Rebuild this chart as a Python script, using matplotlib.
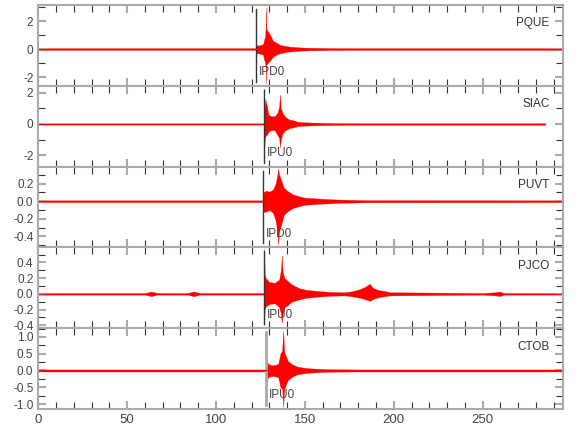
import matplotlib
matplotlib.use("Agg")
import matplotlib.pyplot as plt
from matplotlib.ticker import MultipleLocator, FormatStrFormatter

plt.rcParams["font.family"] = ["Liberation Sans Narrow", "DejaVu Sans Condensed", "Liberation Sans", "DejaVu Sans"]
plt.rcParams["axes.unicode_minus"] = False

# Station names, pick labels and pick times (s)
stations = ["PQUE", "SIAC", "PUVT", "PJCO", "CTOB"]
pick_labels = ["IPD0", "IPU0", "IPD0", "IPU0", "IPU0"]
pick_times = [122.3, 127.0, 126.4, 127.0, 128.0]

# Envelopes: time (s), upper and lower amplitude
pque_t = [0, 122.3, 122.5, 124, 126.4, 127.6, 127.9, 128.1, 128.4, 129, 130.5, 132, 134, 136, 138, 141.6, 147, 153, 165, 180, 295]
pque_up = [0.06, 0.06, 0.3, 0.25, 0.35, 0.9, 1.5, 3.0, 1.4, 1.3, 1.0, 0.6, 0.45, 0.3, 0.25, 0.17, 0.12, 0.09, 0.07, 0.06, 0.06]
pque_lo = [-0.06, -0.06, -0.3, -0.3, -0.4, -1.0, -1.2, -2.45, -1.1, -1.0, -0.8, -0.55, -0.4, -0.3, -0.25, -0.17, -0.12, -0.09, -0.07, -0.06, -0.06]

siac_t = [0, 126.8, 127.0, 127.3, 127.7, 128.6, 129.5, 131, 133, 134.5, 135.5, 136.0, 136.5, 137.5, 139, 141, 144, 146, 150, 154, 165, 180, 285]
siac_up = [0.04, 0.04, 2.3, 1.0, 1.6, 1.2, 0.6, 0.5, 0.5, 0.7, 1.1, 1.9, 1.0, 0.7, 0.45, 0.3, 0.22, 0.14, 0.11, 0.09, 0.06, 0.05, 0.05]
siac_lo = [-0.04, -0.04, -2.5, -1.2, -0.8, -0.7, -0.5, -0.4, -0.4, -0.7, -0.9, -1.5, -1.0, -0.6, -0.4, -0.28, -0.2, -0.14, -0.11, -0.09, -0.06, -0.05, -0.05]

puvt_t = [0, 126.3, 126.6, 128, 130, 132, 133.5, 134.5, 135.0, 135.5, 136.5, 138, 140, 143, 147, 150, 158, 167, 185, 295]
puvt_up = [0.01, 0.01, 0.1, 0.12, 0.11, 0.13, 0.2, 0.3, 0.37, 0.3, 0.25, 0.16, 0.12, 0.08, 0.055, 0.04, 0.03, 0.02, 0.012, 0.01]
puvt_lo = [-0.01, -0.01, -0.12, -0.12, -0.1, -0.13, -0.22, -0.35, -0.49, -0.35, -0.28, -0.16, -0.12, -0.08, -0.055, -0.04, -0.03, -0.02, -0.012, -0.01]

pjco_t = [0, 60, 63.5, 67, 84, 87.5, 91, 126.8, 127.0, 127.4, 128, 130, 133, 135.5, 136.5, 137.0, 137.5, 138.5, 140, 142.6,
          147, 151, 158, 164, 172, 176, 181, 184, 186.5, 188, 191, 195, 198, 250, 257, 259.5, 262, 295]
pjco_up = [0.01, 0.01, 0.03, 0.01, 0.01, 0.03, 0.01, 0.01, 0.58, 0.25, 0.2, 0.15, 0.14, 0.18, 0.3, 0.49, 0.28, 0.2, 0.17, 0.12,
           0.07, 0.05, 0.035, 0.025, 0.02, 0.03, 0.06, 0.09, 0.13, 0.08, 0.05, 0.035, 0.02, 0.01, 0.02, 0.03, 0.01, 0.01]
pjco_lo = [-0.01, -0.01, -0.03, -0.01, -0.01, -0.03, -0.01, -0.01, -0.40, -0.2, -0.16, -0.13, -0.12, -0.17, -0.25, -0.37, -0.25, -0.17, -0.15, -0.1,
           -0.07, -0.05, -0.035, -0.025, -0.02, -0.03, -0.05, -0.07, -0.09, -0.07, -0.045, -0.03, -0.02, -0.01, -0.02, -0.03, -0.01, -0.01]

ctob_t = [0, 128.3, 128.6, 129.2, 131, 133, 135, 136.2, 137.2, 137.8, 138.4, 139.5, 140.5, 143, 146, 150, 154, 160, 167, 180, 295]
ctob_up = [0.03, 0.03, 0.33, 0.2, 0.16, 0.16, 0.2, 0.5, 0.6, 1.19, 0.55, 0.4, 0.28, 0.18, 0.11, 0.08, 0.06, 0.045, 0.035, 0.03, 0.03]
ctob_lo = [-0.03, -0.03, -0.37, -0.2, -0.17, -0.17, -0.2, -0.5, -0.55, -1.09, -0.55, -0.4, -0.28, -0.18, -0.11, -0.08, -0.06, -0.045, -0.035, -0.03, -0.03]

traces = [(pque_t, pque_up, pque_lo), (siac_t, siac_up, siac_lo), (puvt_t, puvt_up, puvt_lo),
          (pjco_t, pjco_up, pjco_lo), (ctob_t, ctob_up, ctob_lo)]

ylims = [(-2.62, 3.16), (-2.74, 2.46), (-0.526, 0.394), (-0.439, 0.59), (-1.154, 1.256)]
ymajor = [2, 2, 0.2, 0.2, 0.5]
yminor = [1, 1, 0.1, 0.1, 0.25]
yfmt = ["%d", "%d", "%.1f", "%.1f", "%.1f"]
pick_colors = ["#333333", "#333333", "#333333", "#333333", "#aaaaaa"]

fig, axes = plt.subplots(5, 1, figsize=(5.8, 4.4), dpi=100, sharex=True)
fig.subplots_adjust(left=0.066, right=0.97, top=0.989, bottom=0.07, hspace=0)

spine_c = "#aaaaaa"
for i, ax in enumerate(axes):
    t, up, lo = traces[i]
    ax.fill_between(t, lo, up, color="red", linewidth=0.2)
    ax.plot([t[0], t[-1]], [0, 0], color="red", lw=0.8)
    ax.axvline(pick_times[i], ymin=0.05, ymax=0.95, color=pick_colors[i],
               lw=1.0 if i < 4 else 2.0, zorder=1)
    ax.text(pick_times[i] + 1.8, ylims[i][0] + 0.17 * (ylims[i][1] - ylims[i][0]),
            pick_labels[i], fontsize=8.5, color="#444444", va="center", ha="left")
    ax.text(0.975, 0.77, stations[i], transform=ax.transAxes, fontsize=8.5,
            color="#333333", ha="right", va="center")

    ax.set_xlim(0, 295)
    ax.set_ylim(*ylims[i])
    ax.xaxis.set_major_locator(MultipleLocator(50))
    ax.xaxis.set_minor_locator(MultipleLocator(10))
    ax.yaxis.set_major_locator(MultipleLocator(ymajor[i]))
    ax.yaxis.set_minor_locator(MultipleLocator(yminor[i]))
    ax.yaxis.set_major_formatter(FormatStrFormatter(yfmt[i]))
    ax.tick_params(which="both", direction="in", top=True, right=True,
                   labelsize=8.5, labelcolor="#444444")
    ax.tick_params(which="major", length=6, width=1.5, color=spine_c)
    ax.tick_params(which="minor", length=5, width=0.8, color="#333333")
    for s in ax.spines.values():
        s.set_color(spine_c)
        s.set_linewidth(1.5)

axes[-1].tick_params(axis="x", labelsize=9.5)

plt.savefig("out.png", dpi=100)
